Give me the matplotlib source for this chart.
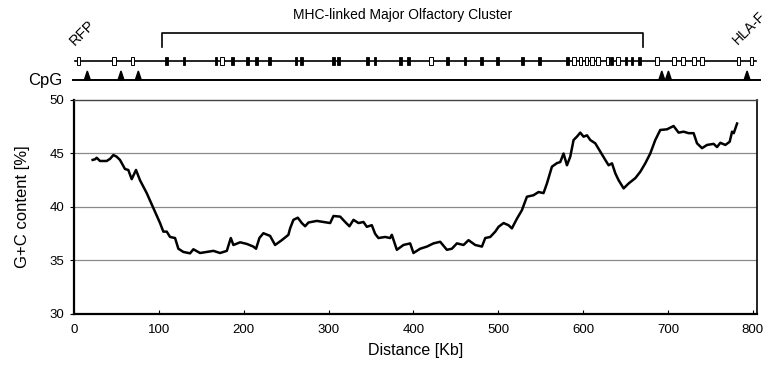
import numpy as np
import matplotlib
matplotlib.use('Agg')
import matplotlib.pyplot as plt

plt.rcParams['font.family'] = ['Liberation Sans', 'DejaVu Sans']

# G+C content along the region (Kb, %)
distance_kb = [22, 24.8, 26.7, 30.7, 38.5, 42.5, 46.4, 50.3, 54.2, 60.1, 64, 68, 73.1, 77.8,
               85.7, 93.5, 101.4, 105.3, 109.3, 113.2, 119.1, 123, 128.9, 136.8, 140.7, 148.6,
               156.5, 164.3, 172.2, 180.1, 184.8, 187.9, 195.8, 203.7, 211.4, 214.6, 218.5,
               223.2, 231.1, 237, 244.9, 252.7, 254.7, 258.6, 263.8, 268.5, 272.4, 276.3,
               286.2, 296, 301.9, 305.8, 313.7, 319.6, 324.6, 329.4, 335.3, 341.2, 345.1,
               351, 354.9, 358.8, 366.7, 372.6, 374.6, 380.5, 388.3, 396.2, 400.1, 408,
               415.9, 423.7, 431.6, 439.5, 445.4, 451.3, 459.1, 465, 472.9, 480.8, 484.7,
               490.6, 496.5, 500.4, 506.3, 512.1, 516.1, 522, 527.9, 533.8, 541.6, 547.5,
               553.4, 557.4, 563.3, 569.2, 573.1, 577, 581, 584.9, 588.8, 592.7, 596.7,
               600.6, 604.6, 608.5, 614.4, 620.3, 626.2, 630.1, 634.1, 638, 641.9, 647.8,
               653.7, 661.6, 667.5, 673.3, 679.2, 685.1, 691, 698.9, 706.7, 712.6, 718.5,
               724.4, 730.3, 734.3, 740.2, 746.1, 753.9, 757.9, 761.8, 767.7, 772.8, 775.6,
               777.6, 781.5]
gc_pct = [44.4, 44.46, 44.6, 44.3, 44.3, 44.5, 44.86, 44.7, 44.4, 43.55, 43.46, 42.6, 43.46, 42.5,
          41.3, 39.9, 38.5, 37.7, 37.7, 37.2, 37.1, 36.1, 35.8, 35.67, 36.05, 35.7,
          35.8, 35.9, 35.7, 35.9, 37.1, 36.45, 36.7, 36.55, 36.3, 36.1, 37.1,
          37.55, 37.3, 36.45, 36.9, 37.4, 38.0, 38.8, 39.0, 38.5, 38.2, 38.55,
          38.7, 38.57, 38.5, 39.16, 39.1, 38.6, 38.2, 38.8, 38.5, 38.6, 38.15,
          38.3, 37.5, 37.1, 37.2, 37.1, 37.4, 36.0, 36.45, 36.6, 35.7, 36.1,
          36.3, 36.6, 36.75, 36.0, 36.1, 36.6, 36.45, 36.9, 36.45, 36.3, 37.1,
          37.2, 37.7, 38.15, 38.5, 38.3, 38.0, 38.9, 39.7, 40.96, 41.1, 41.4,
          41.3, 42.2, 43.77, 44.1, 44.2, 45.0, 43.9, 44.7, 46.26, 46.57, 46.95,
          46.57, 46.7, 46.26, 45.95, 45.17, 44.4, 43.9, 44.08, 43.15, 42.5, 41.74,
          42.2, 42.7, 43.3, 44.08, 45.0, 46.26, 47.2, 47.26, 47.57, 46.95, 47.04,
          46.9, 46.9, 45.95, 45.5, 45.8, 45.9, 45.6, 46.0, 45.8, 46.1, 47.04,
          46.9, 47.8]

# gene map (Kb)
genes_open = [5.1, 47.2, 69.2, 174.2, 421, 589.6, 597, 603.8, 610.8, 617.5, 628.9, 641.5,
              687.1, 707.5, 717.8, 731, 740.2, 783.4, 798.3]
genes_filled = [109.3, 129.7, 167.5, 186.7, 204.8, 215, 230.3, 261.8, 268.5, 305.8, 312.1,
                346.3, 354.9, 385.2, 394.1, 440.6, 460.7, 479.9, 498.8, 528.9, 548.5,
                581.5, 633.5, 650.6, 657.7, 666.5]
cpg_kb = [15.7, 55.4, 75.8, 692.8, 700.6, 793.3]
cluster_kb = [103.7, 670.2]
track_kb = [1, 804]
cpg_line_kb = [-1, 808]

xticks = [0, 100, 200, 300, 400, 500, 600, 700, 800]
yticks = [30, 35, 40, 45, 50]

W, H = 777, 367
fig = plt.figure(figsize=(W / 100, H / 100), dpi=100)

# main plot
ax = fig.add_axes([74 / W, 53 / H, 683 / W, 214 / H])
ax.plot(distance_kb, gc_pct, color='black', linewidth=1.8)
ax.set_xlim(0, 805)
ax.set_ylim(30, 50)
ax.set_xticks(xticks)
ax.set_yticks(yticks)
for g in [35, 40, 45]:
    ax.axhline(g, color='#8a8a8a', linewidth=0.9, zorder=0)
ax.spines['left'].set_linewidth(1.6)
ax.spines['bottom'].set_linewidth(1.6)
ax.spines['right'].set_linewidth(1.2)
ax.spines['top'].set_linewidth(1.0)
ax.spines['top'].set_color('#444444')
ax.tick_params(axis='x', direction='in', length=3, width=0.8, labelsize=9.5, pad=7)
ax.tick_params(axis='y', direction='out', length=3, width=0.8, labelsize=9.5, pad=4)
ax.set_xlabel('Distance [Kb]', fontsize=11.5, labelpad=5)
ax.set_ylabel('G+C content [%]', fontsize=12, labelpad=14)

# gene track, rows in pixels from top
tk = fig.add_axes([74 / W, 1 - 95 / H, 683 / W, 95 / H])
tk.set_xlim(0, 805)
tk.set_ylim(95, 0)
tk.axis('off')

track_y = 61
cpg_y = 80
tk.plot(track_kb, [track_y, track_y], color='black', linewidth=1.2, clip_on=False)
tk.bar(genes_filled, 8, bottom=track_y - 4, width=3.2, color='black', edgecolor='black',
       linewidth=0.6, zorder=3)
tk.bar(genes_open, 8, bottom=track_y - 4, width=4.2, color='white', edgecolor='black',
       linewidth=0.7, zorder=3, clip_on=False)

tk.plot(cpg_line_kb, [cpg_y, cpg_y], color='black', linewidth=1.4, clip_on=False)
for c in cpg_kb:
    tk.fill([c - 3.5, c, c + 3.5], [cpg_y, cpg_y - 9, cpg_y], color='black', zorder=3)

tk.plot([cluster_kb[0], cluster_kb[0], cluster_kb[1], cluster_kb[1]], [47, 33, 33, 47],
        color='black', linewidth=1.2)
tk.text(sum(cluster_kb) / 2, 15, 'MHC-linked Major Olfactory Cluster', fontsize=10,
        ha='center', va='center')
tk.text(1, 46, 'RFP', fontsize=10.5, rotation=45, rotation_mode='anchor',
        ha='left', va='baseline')
tk.text(783, 45, 'HLA-F', fontsize=10, rotation=45, rotation_mode='anchor',
        ha='left', va='baseline', clip_on=False)
fig.text(62 / W, 1 - 80 / H, 'CpG', fontsize=12, ha='right', va='center')

fig.savefig('out.png', dpi=100)
